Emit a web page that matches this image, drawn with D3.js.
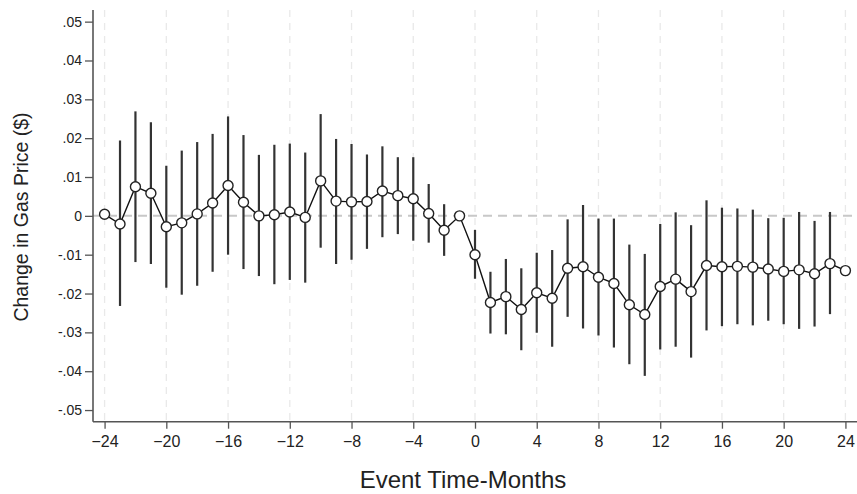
<!DOCTYPE html>
<html>
<head>
<meta charset="utf-8">
<script src="https://cdn.jsdelivr.net/npm/d3@7"></script>
<style>
  html, body { margin: 0; padding: 0; background: #fff; }
  svg { display: block; font-family: "Liberation Sans", Arial, sans-serif; }
</style>
</head>
<body>
<svg id="chart" width="857" height="494"></svg>
<script>
const months = [-24,-23,-22,-21,-20,-19,-18,-17,-16,-15,-14,-13,-12,-11,-10,-9,-8,-7,-6,-5,-4,-3,-2,-1,
  0,1,2,3,4,5,6,7,8,9,10,11,12,13,14,15,16,17,18,19,20,21,22,23,24];
const estimate = [0.0004,-0.0021,0.0075,0.0058,-0.0028,-0.0018,0.0005,0.0033,0.0078,0.0035,0.0000,0.0003,0.0010,-0.0004,0.0090,0.0038,0.0036,0.0037,0.0064,0.0052,0.0044,0.0006,-0.0037,0.0000,
  -0.0100,-0.0223,-0.0208,-0.0241,-0.0198,-0.0212,-0.0135,-0.0131,-0.0158,-0.0174,-0.0229,-0.0254,-0.0182,-0.0163,-0.0195,-0.0128,-0.0131,-0.0130,-0.0132,-0.0137,-0.0143,-0.0139,-0.0149,-0.0123,-0.0141];
const upper = [null,0.0194,0.0269,0.0241,0.0129,0.0168,0.0190,0.0211,0.0256,0.0208,0.0157,0.0183,0.0186,0.0163,0.0262,0.0198,0.0185,0.0158,0.0179,0.0151,0.0151,0.0082,0.0030,null,
  -0.0036,-0.0144,-0.0111,-0.0135,-0.0095,-0.0088,-0.0009,0.0028,-0.0007,-0.0007,-0.0074,-0.0098,-0.0021,0.0009,-0.0024,0.0040,0.0021,0.0019,0.0016,-0.0006,-0.0005,0.0010,-0.0013,0.0010,null];
const lower = [null,-0.0232,-0.0119,-0.0124,-0.0185,-0.0203,-0.0180,-0.0144,-0.0100,-0.0137,-0.0155,-0.0176,-0.0165,-0.0172,-0.0082,-0.0124,-0.0113,-0.0085,-0.0055,-0.0047,-0.0064,-0.0069,-0.0103,null,
  -0.0162,-0.0303,-0.0305,-0.0346,-0.0301,-0.0337,-0.0260,-0.0290,-0.0308,-0.0339,-0.0382,-0.0412,-0.0344,-0.0337,-0.0365,-0.0295,-0.0284,-0.0279,-0.0282,-0.0270,-0.0279,-0.0291,-0.0285,-0.0253,null];
const xTicks = [-24,-20,-16,-12,-8,-4,0,4,8,12,16,20,24];
const yTicks = [0.05,0.04,0.03,0.02,0.01,0,-0.01,-0.02,-0.03,-0.04,-0.05];
const yTickLabels = [".05",".04",".03",".02",".01","0","-.01","-.02","-.03","-.04","-.05"];
const xTitle = "Event Time-Months";
const yTitle = "Change in Gas Price ($)";

const data = months.map((m, i) => ({m, est: estimate[i], lo: lower[i], hi: upper[i]}));

const svg = d3.select("#chart");
const pLeft = 93, pRight = 857, pTop = 10, pBottom = 421.7;

const x = d3.scaleLinear().domain([-24.75, 24.75]).range([pLeft, pRight]);
const y = d3.scaleLinear().domain([-0.053, 0.053]).range([pBottom, pTop]);

// vertical grid lines
svg.append("g").selectAll("line").data(xTicks).join("line")
  .attr("x1", d => x(d)).attr("x2", d => x(d))
  .attr("y1", pTop).attr("y2", pBottom)
  .attr("stroke", "#e9e9e9").attr("stroke-width", 1.3)
  .attr("stroke-dasharray", "7,6");

// zero reference line
svg.append("line")
  .attr("x1", pLeft).attr("x2", pRight)
  .attr("y1", y(0)).attr("y2", y(0))
  .attr("stroke", "#c8c8c8").attr("stroke-width", 2)
  .attr("stroke-dasharray", "9,6");

// axes
const yAxis = d3.axisLeft(y).tickValues(yTicks)
  .tickFormat((d, i) => yTickLabels[i]).tickSize(8).tickPadding(3);
const gy = svg.append("g").attr("transform", `translate(${pLeft},0)`).call(yAxis);
gy.select(".domain").attr("d", `M0,${pTop}V${pBottom}`).attr("stroke", "#555").attr("stroke-width", 1.6);
gy.selectAll(".tick line").attr("stroke", "#555").attr("stroke-width", 1.3);
gy.selectAll(".tick text").attr("font-size", 14).attr("fill", "#222")
  .attr("font-family", "Liberation Sans, Arial, sans-serif");

const xAxis = d3.axisBottom(x).tickValues(xTicks).tickSize(7).tickPadding(7);
const gx = svg.append("g").attr("transform", `translate(0,${pBottom})`).call(xAxis);
gx.select(".domain").attr("d", `M${pLeft},0H${pRight}`).attr("stroke", "#555").attr("stroke-width", 1.6);
gx.selectAll(".tick line").attr("stroke", "#555").attr("stroke-width", 1.3);
gx.selectAll(".tick text").attr("font-size", 16).attr("fill", "#222")
  .attr("font-family", "Liberation Sans, Arial, sans-serif");

// CI bars
svg.append("g").selectAll("line").data(data.filter(d => d.lo !== null)).join("line")
  .attr("x1", d => x(d.m)).attr("x2", d => x(d.m))
  .attr("y1", d => y(d.hi)).attr("y2", d => y(d.lo))
  .attr("stroke", "#333").attr("stroke-width", 2.2);

// connecting line
svg.append("path").datum(data)
  .attr("d", d3.line().x(d => x(d.m)).y(d => y(d.est)))
  .attr("fill", "none").attr("stroke", "#111").attr("stroke-width", 1.4);

// markers
svg.append("g").selectAll("circle").data(data).join("circle")
  .attr("cx", d => x(d.m)).attr("cy", d => y(d.est)).attr("r", 5)
  .attr("fill", "#fff").attr("stroke", "#222").attr("stroke-width", 1.4);

// titles
svg.append("text").attr("x", 463).attr("y", 488).attr("text-anchor", "middle")
  .attr("font-size", 24).attr("fill", "#222").text(xTitle);
svg.append("text").attr("transform", `translate(28,${217}) rotate(-90)`)
  .attr("text-anchor", "middle").attr("font-size", 19.5).attr("fill", "#222").text(yTitle);
</script>
</body>
</html>
